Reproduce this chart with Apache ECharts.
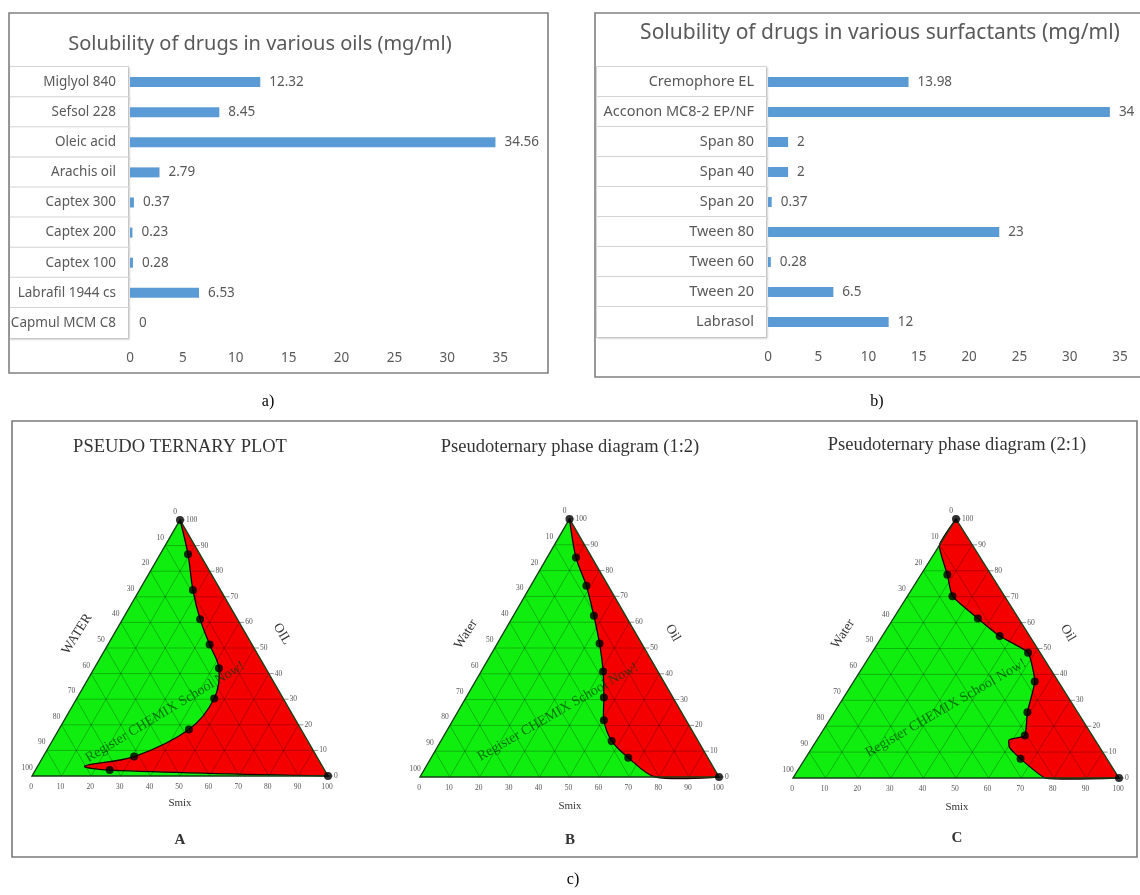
<!DOCTYPE html>
<html><head><meta charset="utf-8">
<script src="https://cdn.jsdelivr.net/npm/echarts@6/dist/echarts.min.js"></script>
<style>html,body{margin:0;padding:0;background:#fff}#c{width:1140px;height:895px}</style>
</head><body><div id="c"></div>
<script>
// ---------- data ----------
const oilNames = ['Miglyol 840','Sefsol 228','Oleic acid','Arachis oil','Captex 300','Captex 200','Captex 100','Labrafil 1944 cs','Capmul MCM C8'];
const oilValues = [12.32, 8.45, 34.56, 2.79, 0.37, 0.23, 0.28, 6.53, 0];
const surfNames = ['Cremophore EL','Acconon MC8-2 EP/NF','Span 80','Span 40','Span 20','Tween 80','Tween 60','Tween 20','Labrasol'];
const surfValues = [13.98, 34, 2, 2, 0.37, 23, 0.28, 6.5, 12];
const ternaryTicks = [0,10,20,30,40,50,60,70,80,90,100];
// phase boundaries: [Smix %, Oil %, measured point (1) / curve only (0)]; Water = 100 - Smix - Oil
const boundaryA = [[0,100,1],[9.4,86.6,1],[18.0,72.7,1],[26.2,61.2,1],[34.3,51.4,1],[42.1,42.1,1],[46.4,30.3,1],[43.9,18.2,1],[30.7,7.6,1],[15.9,3.9,0],[25.1,2.3,1],[100,0,1]];
const boundaryB = [[0,100,1],[9.6,85.1,1],[18.6,74.1,1],[26.9,62.5,1],[34.2,51.7,1],[40.8,40.9,1],[46.1,30.8,1],[50.5,22.0,1],[57.1,14.0,1],[65.9,7.5,1],[78.7,0,0],[100,0,1]];
const boundaryC = [[0,100,1],[0,89.8,0],[8.1,78.5,1],[13.8,70.2,1],[25.9,61.6,1],[36.0,54.8,1],[47.9,48.4,1],[55.5,37.3,1],[59.2,25.4,1],[62.9,16.4,1],[58.9,14.7,0],[60.6,11.7,0],[66.1,7.4,1],[77.5,0,0],[100,0,1]];

// ---------- style ----------
const SANS = '"Noto Sans", sans-serif';
const SERIF = '"Liberation Serif", "DejaVu Serif", serif';
const TXT = '#595959';
const BAR = '#5b9bd5';
const GREEN = '#10ee10';
const RED = '#f50000';
const SQ = Math.sqrt(3) / 2;
const toXY = (s, o) => [s + o / 2, o * SQ];

function barAxes(gi, names, max, margin, w, fs) {
  return {
    x: {gridIndex: gi, type: 'value', min: 0, max: max, interval: 5,
        splitLine: {show: false}, axisLine: {show: false}, axisTick: {show: false},
        axisLabel: {color: TXT, fontSize: 13.5, fontFamily: SANS, margin: 13,
                    formatter: v => (v % 5 !== 0 || v >= 40 ? '' : String(v))}},
    y: {gridIndex: gi, type: 'category', data: names, inverse: true,
        axisLine: {show: false}, axisTick: {show: false},
        axisLabel: {interval: 0, margin: margin, color: TXT, fontSize: fs, fontFamily: SANS,
                    align: 'right', width: w, height: 30, lineHeight: 30, padding: [0, 12, 0, 0],
                    backgroundColor: '#fff', borderColor: '#d6d6d6', borderWidth: 1, overflow: 'none',
                    shadowColor: 'rgba(0,0,0,0.12)', shadowBlur: 2, shadowOffsetX: 1, shadowOffsetY: 1}}
  };
}
function barSeries(gi, vals) {
  return {type: 'bar', xAxisIndex: gi, yAxisIndex: gi, data: vals, barWidth: 10,
          itemStyle: {color: BAR},
          label: {show: true, position: 'right', distance: 9, color: TXT, fontSize: 13.5, fontFamily: SANS}};
}

function ternary(gi, bnd, smooth) {
  const base = {type: 'custom', coordinateSystem: 'cartesian2d', xAxisIndex: gi, yAxisIndex: gi,
                data: [[50, 40]], silent: true, clip: false};
  const corners = [toXY(0,0), toXY(100,0), toXY(0,100)];
  return [
    Object.assign({}, base, {z: 1, renderItem: (p, api) => ({
      type: 'polygon', shape: {points: corners.map(c => api.coord(c))}, style: {fill: GREEN}})}),
    Object.assign({}, base, {z: 2, renderItem: (p, api) => ({
      type: 'polyline', shape: {points: bnd.map(b => api.coord(toXY(b[0], b[1]))), smooth: smooth},
      style: {fill: RED, stroke: '#1a0000', lineWidth: 1.3}})}),
    Object.assign({}, base, {z: 3, renderItem: (p, api) => {
      const ch = [];
      const ln = (a, b, c, w) => {
        const A = api.coord(a), B = api.coord(b);
        ch.push({type: 'line', shape: {x1: A[0], y1: A[1], x2: B[0], y2: B[1]},
                 style: {stroke: c || 'rgba(0,0,0,0.3)', lineWidth: w || 0.8}});
      };
      const tx = (pt, dx, dy, t, al) => {
        const P = api.coord(pt);
        ch.push({type: 'text', x: P[0] + dx, y: P[1] + dy,
                 style: {text: t, fill: '#555', font: '7.5px ' + SERIF, align: al || 'center', verticalAlign: 'middle'}});
      };
      ternaryTicks.forEach(k => {
        if (k > 0 && k < 100) {
          ln(toXY(0, k), toXY(100 - k, k));
          ln(toXY(k, 0), toXY(k, 100 - k));
          ln(toXY(100 - k, 0), toXY(0, 100 - k));
        }
        // bottom: Smix
        tx(toXY(k, 0), -1, 11, String(k));
        // right edge: Oil
        const R = api.coord(toXY(100 - k, k));
        ch.push({type: 'line', shape: {x1: R[0], y1: R[1], x2: R[0] + 5, y2: R[1]}, style: {stroke: '#777', lineWidth: 0.8}});
        tx(toXY(100 - k, k), 6, 0, String(k), 'left');
        // left edge: Water
        tx(toXY(0, 100 - k), -5, -8, String(k));
      });
      // triangle outline
      ch.push({type: 'polygon', shape: {points: corners.map(c => api.coord(c))},
               style: {fill: null, stroke: '#163f16', lineWidth: 1.4}});
      return {type: 'group', children: ch};
    }}),
    {type: 'scatter', xAxisIndex: gi, yAxisIndex: gi, z: 4, silent: true, symbolSize: 8,
     itemStyle: {color: '#000'},
     data: bnd.filter(b => b[2]).map(b => toXY(b[0], b[1]))}
  ];
}

const a = barAxes(0, oilNames, 40, 2, 106, 13.5);
const b = barAxes(1, surfNames, 36, 2, 157, 14.5);
const tGrids = [
  {left: 32, top: 520, width: 296, height: 256},
  {left: 420, top: 519, width: 299, height: 258},
  {left: 793, top: 519, width: 326, height: 259}
];
const tAx = tGrids.map((g, i) => ({
  x: {gridIndex: i + 2, type: 'value', min: 0, max: 100, show: false},
  y: {gridIndex: i + 2, type: 'value', min: 0, max: 100 * SQ, show: false}
}));

function t(x, y, text, font, fill, rot, extra) {
  return Object.assign({type: 'text', x: x, y: y, rotation: (rot || 0) * Math.PI / 180,
    style: {text: text, font: font, fill: fill || '#222', align: 'center', verticalAlign: 'middle'}}, extra || {});
}
const WM = 'rgba(0,60,0,0.7)';
const graphics = [
  {type: 'rect', shape: {x: 9, y: 13, width: 539, height: 360}, style: {fill: null, stroke: '#808080', lineWidth: 1.6}, z: 100},
  {type: 'rect', shape: {x: 595, y: 13, width: 620, height: 364}, style: {fill: null, stroke: '#808080', lineWidth: 1.6}, z: 100},
  {type: 'rect', shape: {x: 12, y: 421, width: 1125, height: 436}, style: {fill: null, stroke: '#7a7a7a', lineWidth: 1.6}, z: 100},
  t(260, 44, 'Solubility of drugs in various oils (mg/ml)', '20px ' + SANS, TXT),
  t(880, 33, 'Solubility of drugs in various surfactants (mg/ml)', '21px ' + SANS, TXT),
  t(268, 402, 'a)', '16px ' + SERIF, '#000'),
  t(877, 402, 'b)', '16px ' + SERIF, '#000'),
  t(573, 880, 'c)', '16px ' + SERIF, '#000'),
  t(180, 447, 'PSEUDO TERNARY PLOT', '18.5px ' + SERIF, '#333'),
  t(570, 447, 'Pseudoternary phase diagram (1:2)', '18.5px ' + SERIF, '#333'),
  t(957, 445, 'Pseudoternary phase diagram (2:1)', '18.5px ' + SERIF, '#333'),
  t(77, 634, 'WATER', '13.5px ' + SERIF, '#333', 58),
  t(282, 634, 'OIL', '13.5px ' + SERIF, '#333', -60),
  t(466, 634, 'Water', '13.5px ' + SERIF, '#333', 58),
  t(673, 633, 'Oil', '13.5px ' + SERIF, '#333', -60),
  t(843, 634, 'Water', '13.5px ' + SERIF, '#333', 57),
  t(1068, 633, 'Oil', '13.5px ' + SERIF, '#333', -60),
  t(180, 803, 'Smix', '11px ' + SERIF, '#333'),
  t(570, 806, 'Smix', '11px ' + SERIF, '#333'),
  t(957, 807, 'Smix', '11px ' + SERIF, '#333'),
  t(180, 840, 'A', 'bold 15px ' + SERIF, '#333'),
  t(570, 840, 'B', 'bold 15px ' + SERIF, '#333'),
  t(957, 838, 'C', 'bold 15px ' + SERIF, '#333'),
  t(165, 712, 'Register CHEMIX School Now!', '14px ' + SERIF, WM, 31, {z: 50}),
  t(558, 712, 'Register CHEMIX School Now!', '14px ' + SERIF, WM, 30, {z: 50}),
  t(946, 708, 'Register CHEMIX School Now!', '14px ' + SERIF, WM, 30, {z: 50})
];

const chart = echarts.init(document.getElementById('c'));
chart.setOption({
  animation: false,
  backgroundColor: '#fff',
  grid: [{left: 130, top: 67, width: 423, height: 271}, {left: 768, top: 67, width: 362, height: 270}].concat(tGrids),
  xAxis: [a.x, b.x].concat(tAx.map(o => o.x)),
  yAxis: [a.y, b.y].concat(tAx.map(o => o.y)),
  series: [barSeries(0, oilValues), barSeries(1, surfValues)]
    .concat(ternary(2, boundaryA, 0.35), ternary(3, boundaryB, 0.3), ternary(4, boundaryC, 0.15)),
  graphic: {elements: graphics}
});
</script></body></html>
